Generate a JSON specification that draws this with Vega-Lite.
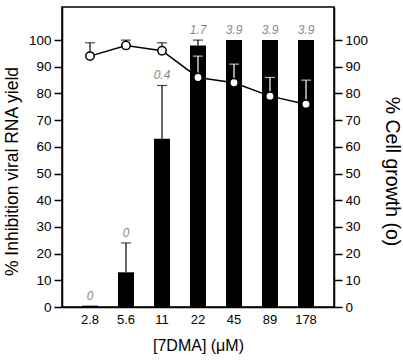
{
  "$schema": "https://vega.github.io/schema/vega-lite/v6.json",
  "autosize": {"type": "none"},
  "padding": {"left": 62, "top": 7, "right": 69, "bottom": 57},
  "width": 272,
  "height": 300,
  "data": {
    "values": [
      {"conc": "2.8", "inh": 0.5, "inh_hi": 0.5, "cell": 94, "cell_hi": 99, "label": "0"},
      {"conc": "5.6", "inh": 13, "inh_hi": 24, "cell": 98, "cell_hi": 100, "label": "0"},
      {"conc": "11", "inh": 63, "inh_hi": 83, "cell": 96, "cell_hi": 99, "label": "0.4"},
      {"conc": "22", "inh": 98, "inh_hi": 100, "cell": 86, "cell_hi": 94, "label": "1.7"},
      {"conc": "45", "inh": 100, "inh_hi": 100, "cell": 84, "cell_hi": 91, "label": "3.9"},
      {"conc": "89", "inh": 100, "inh_hi": 100, "cell": 79, "cell_hi": 86, "label": "3.9"},
      {"conc": "178", "inh": 100, "inh_hi": 100, "cell": 76, "cell_hi": 85, "label": "3.9"}
    ]
  },
  "encoding": {
    "x": {
      "field": "conc", "type": "nominal", "sort": null,
      "scale": {"paddingInner": 0.556, "paddingOuter": 0.556},
      "axis": {"title": "[7DMA] (μM)", "labelAngle": 0, "ticks": false, "labelPadding": 6, "labelFontSize": 13, "titleFontSize": 16, "titlePadding": 11, "titleFontWeight": "normal"}
    }
  },
  "layer": [
    {
      "mark": {"type": "line", "color": "black", "strokeWidth": 1.5},
      "encoding": {
        "y": {"field": "cell", "type": "quantitative", "scale": {"domain": [0, 112.4], "nice": false},
          "axis": {"orient": "right", "title": "% Cell growth (o)", "values": [0,10,20,30,40,50,60,70,80,90,100], "tickSize": 8, "labelFontSize": 13.5, "labelPadding": 3, "titleFontSize": 19.5, "titleFontWeight": "normal", "titlePadding": 14, "titleY": 164, "grid": false}}
      }
    },
    {
      "mark": {"type": "bar", "color": "black", "size": 16},
      "encoding": {
        "y": {"field": "inh", "type": "quantitative", "scale": {"domain": [0, 112.4], "nice": false},
          "axis": {"orient": "left", "title": "% Inhibition viral RNA yield", "values": [0,10,20,30,40,50,60,70,80,90,100], "tickSize": 8, "labelFontSize": 13.5, "labelPadding": 3, "titleFontSize": 17.5, "titleFontWeight": "normal", "titlePadding": 7, "titleY": 164, "grid": false}}
      }
    },
    {
      "transform": [{"filter": "datum.inh_hi > datum.inh"}],
      "mark": {"type": "rule", "color": "black", "strokeWidth": 1.2},
      "encoding": {
        "y": {"field": "inh", "type": "quantitative", "scale": {"domain": [0, 112.4], "nice": false}, "axis": null},
        "y2": {"field": "inh_hi"}
      }
    },
    {
      "transform": [{"filter": "datum.inh_hi > datum.inh"}],
      "mark": {"type": "tick", "color": "black", "orient": "horizontal", "size": 10, "thickness": 1.2},
      "encoding": {
        "y": {"field": "inh_hi", "type": "quantitative", "scale": {"domain": [0, 112.4], "nice": false}, "axis": null}
      }
    },
    {
      "mark": {"type": "rule", "strokeWidth": 1.2},
      "encoding": {
        "y": {"field": "cell", "type": "quantitative", "scale": {"domain": [0, 112.4], "nice": false}, "axis": null},
        "y2": {"field": "cell_hi"},
        "color": {"condition": {"test": "datum.cell_hi <= datum.inh", "value": "white"}, "value": "black"}
      }
    },
    {
      "mark": {"type": "tick", "orient": "horizontal", "size": 10, "thickness": 1.2},
      "encoding": {
        "y": {"field": "cell_hi", "type": "quantitative", "scale": {"domain": [0, 112.4], "nice": false}, "axis": null},
        "color": {"condition": {"test": "datum.cell_hi <= datum.inh", "value": "white"}, "value": "black"}
      }
    },
    {
      "mark": {"type": "point", "shape": "circle", "filled": true, "fill": "white", "stroke": "black", "strokeWidth": 1.5, "size": 70, "opacity": 1},
      "encoding": {
        "y": {"field": "cell", "type": "quantitative", "scale": {"domain": [0, 112.4], "nice": false}, "axis": null}
      }
    },
    {
      "mark": {"type": "text", "fontStyle": "italic", "color": "#8a8a8a", "fontSize": 12, "baseline": "bottom", "dy": -3, "font": "Liberation Sans"},
      "encoding": {
        "y": {"field": "inh_hi", "type": "quantitative", "scale": {"domain": [0, 112.4], "nice": false}, "axis": null},
        "text": {"field": "label"}
      }
    }
  ],
  "resolve": {"axis": {"y": "independent"}},
  "config": {
    "font": "Liberation Sans",
    "view": {"stroke": "black", "strokeWidth": 1.5},
    "axis": {"domainColor": "black", "domainWidth": 1.5, "tickColor": "black", "tickWidth": 1.5, "labelColor": "black", "titleColor": "black", "labelFont": "Liberation Sans", "titleFont": "Liberation Sans", "grid": false}
  }
}
